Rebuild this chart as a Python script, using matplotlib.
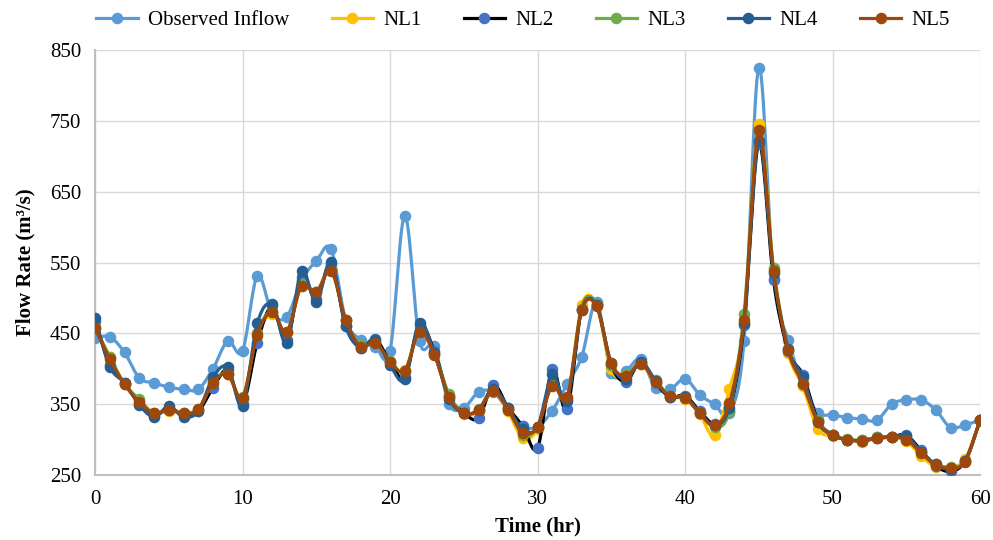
import numpy as np
import matplotlib
matplotlib.use("Agg")
import matplotlib.pyplot as plt
from matplotlib.lines import Line2D

hours = list(range(61))
observed = [443,445,423,387,380,374,371,371,400,439,425,531,479,473,525,552,569,469,441,431,425,616,439,432,350,345,367,367,342,319,318,341,378,417,494,394,397,414,373,371,386,363,350,337,439,825,527,440,377,338,335,331,329,327,350,356,356,342,317,321,327]
nl1 = [460,416,378,355,338,340,338,343,382,392,358,445,478,452,517,508,540,468,432,438,410,398,455,422,362,336,340,368,340,302,315,380,358,490,490,399,390,407,380,360,358,336,306,371,465,745,540,422,375,315,305,300,297,302,303,298,277,261,260,273,327]
nl2 = [468,405,380,350,333,345,335,340,373,398,350,437,488,440,530,498,548,460,430,442,410,388,462,425,362,338,330,377,345,319,288,399,343,485,490,405,382,410,380,360,362,340,322,340,462,718,526,425,391,328,307,300,299,303,304,306,285,263,255,270,327]
nl3 = [458,417,379,357,337,342,338,342,381,393,360,450,481,452,519,508,541,469,433,437,411,397,453,421,364,337,343,368,345,307,318,378,358,485,492,405,392,408,384,361,360,337,318,340,478,735,542,428,380,327,306,301,299,303,303,301,283,265,262,270,327]
nl4 = [472,403,380,349,332,347,332,340,388,402,348,464,491,437,538,494,551,460,430,440,405,385,465,422,358,337,342,372,345,315,318,392,355,483,490,408,385,410,383,360,360,338,320,345,465,722,535,428,388,325,306,300,298,302,303,305,283,265,258,270,327]
nl5 = [457,414,378,353,337,342,337,343,380,392,359,448,480,452,517,508,538,469,431,437,410,397,452,420,360,337,342,368,342,310,318,376,360,483,488,408,390,407,381,361,359,337,320,351,469,737,538,426,378,325,306,300,298,302,303,300,281,264,260,269,327]

series_names = ["Observed Inflow", "NL1", "NL2", "NL3", "NL4", "NL5"]
series_data = [observed, nl1, nl2, nl3, nl4, nl5]
line_colors = ["#5B9BD5", "#FFC000", "#000000", "#70AD47", "#255E91", "#9E480E"]
marker_colors = ["#5B9BD5", "#FFC000", "#4472C4", "#70AD47", "#255E91", "#9E480E"]


def smooth(x, y, n=16):
    x = np.asarray(x, float)
    y = np.asarray(y, float)
    px = np.concatenate([[2 * x[0] - x[1]], x, [2 * x[-1] - x[-2]]])
    py = np.concatenate([[2 * y[0] - y[1]], y, [2 * y[-1] - y[-2]]])
    xs, ys = [], []
    t = np.linspace(0, 1, n, endpoint=False)
    for i in range(1, len(px) - 2):
        for p, out in ((px, xs), (py, ys)):
            p0, p1, p2, p3 = p[i - 1], p[i], p[i + 1], p[i + 2]
            b1 = p1 + (p2 - p0) / 6
            b2 = p2 - (p3 - p1) / 6
            out.extend((1 - t) ** 3 * p1 + 3 * (1 - t) ** 2 * t * b1 + 3 * (1 - t) * t ** 2 * b2 + t ** 3 * p2)
    xs.append(x[-1]); ys.append(y[-1])
    return np.array(xs), np.array(ys)


plt.rcParams['font.family'] = ['Liberation Serif', 'DejaVu Serif']
fig = plt.figure(figsize=(9.93, 5.4), dpi=100)
ax = fig.add_axes([95 / 993, 1 - 475 / 540, 885 / 993, 425 / 540])

for i, (name, data) in enumerate(zip(series_names, series_data)):
    sx, sy = smooth(hours, data)
    ax.plot(sx, sy, color=line_colors[i], lw=2.3, zorder=3 + i, solid_capstyle='round')
    ax.plot(hours, data, ls='none', marker='o', ms=7.3, color=marker_colors[i],
            mec=marker_colors[i], zorder=3 + i)

ax.set_xlim(0, 60)
ax.set_ylim(250, 850)
ax.set_xticks(range(0, 61, 10))
ax.set_yticks(range(250, 851, 100))
ax.grid(True, color="#D9D9D9", lw=1.0, zorder=0)
ax.set_axisbelow(True)
for s in ['top', 'right']:
    ax.spines[s].set_visible(False)
ax.spines['left'].set_color('#BFBFBF')
ax.spines['bottom'].set_color('#BFBFBF')
ax.spines['left'].set_linewidth(1.5)
ax.spines['bottom'].set_linewidth(1.5)
ax.tick_params(length=0, labelsize=15, colors='black')
ax.tick_params(axis='y', pad=10)
ax.tick_params(axis='x', pad=11)
ax.set_xlabel("Time (hr)", fontsize=15, fontweight='bold', labelpad=5)
ax.set_ylabel("Flow Rate (m³/s)", fontsize=15, fontweight='bold', labelpad=10)

handles = [Line2D([0], [0], color=line_colors[i], lw=2.3, marker='o', ms=7.3,
                  mfc=marker_colors[i], mec=marker_colors[i]) for i in range(6)]
fig.legend(handles, series_names, loc='center', bbox_to_anchor=(0.527, 0.962), ncol=6,
           frameon=False, fontsize=15, handlelength=2.0, columnspacing=2.0, handletextpad=0.5)

fig.savefig("out.png", dpi=100)
